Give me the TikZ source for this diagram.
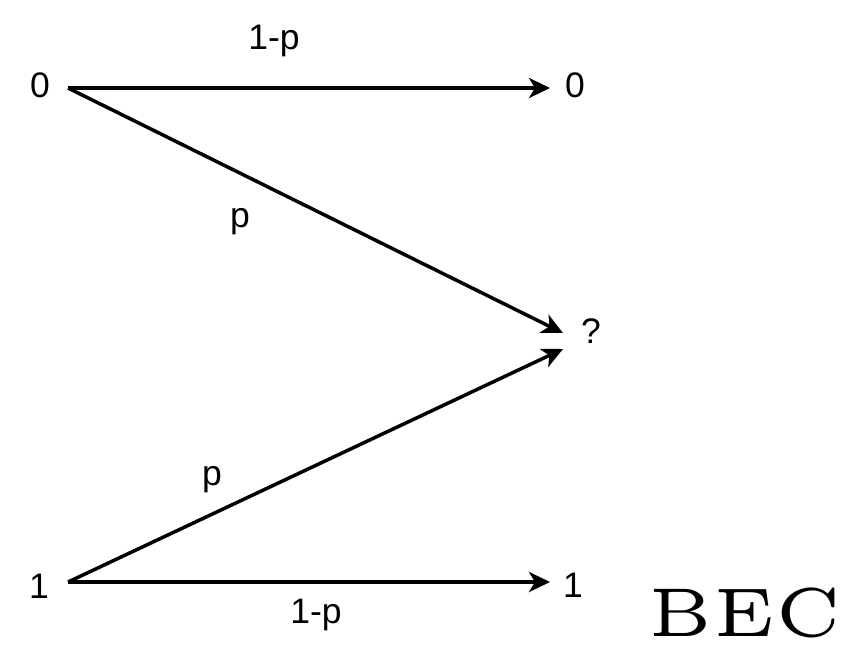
\documentclass[tikz,border=0pt]{standalone}
\usepackage{fontspec}
\newfontfamily\arialfont{Liberation Sans}
\usetikzlibrary{arrows.meta}
\tikzset{
  lbl/.style={font=\arialfont\fontsize{35.5}{40}\selectfont, inner sep=0pt, anchor=base},
  conn/.style={line width=3.5pt, -{Stealth[length=21pt,width=20pt,inset=6pt]}},
}
\begin{document}
\begin{tikzpicture}[x=1pt,y=-1pt]
\useasboundingbox (0,0) rectangle (845,667);
% labels
\node[lbl] (in0) at (40,97.5) {0};
\node[lbl] (in1) at (39,598) {1};
\node[lbl] (out0) at (575,97.5) {0};
\node[lbl] (out1) at (573,597) {1};
\node[lbl] (oute) at (591,343) {?};
\node[lbl] (l00) at (274,49) {1-p};
\node[lbl] (l11) at (316,623) {1-p};
\node[lbl] (l0e) at (240,227) {p};
\node[lbl] (l1e) at (212,485) {p};
\node[inner sep=0pt, anchor=base west, scale=13.8] (title) at (646,636) {\fontsize{5}{6}\selectfont BEC};
% connector ends
\coordinate (a0) at (68,88);
\coordinate (a1) at (68,582);
\coordinate (b0) at (550,88);
\coordinate (b1) at (550,582);
\coordinate (e0) at (563,333);
\coordinate (e1) at (563,349);
\draw[conn] (a0) -- (b0);
\draw[conn] (a0) -- (e0);
\draw[conn] (a1) -- (e1);
\draw[conn] (a1) -- (b1);
\end{tikzpicture}
\end{document}
